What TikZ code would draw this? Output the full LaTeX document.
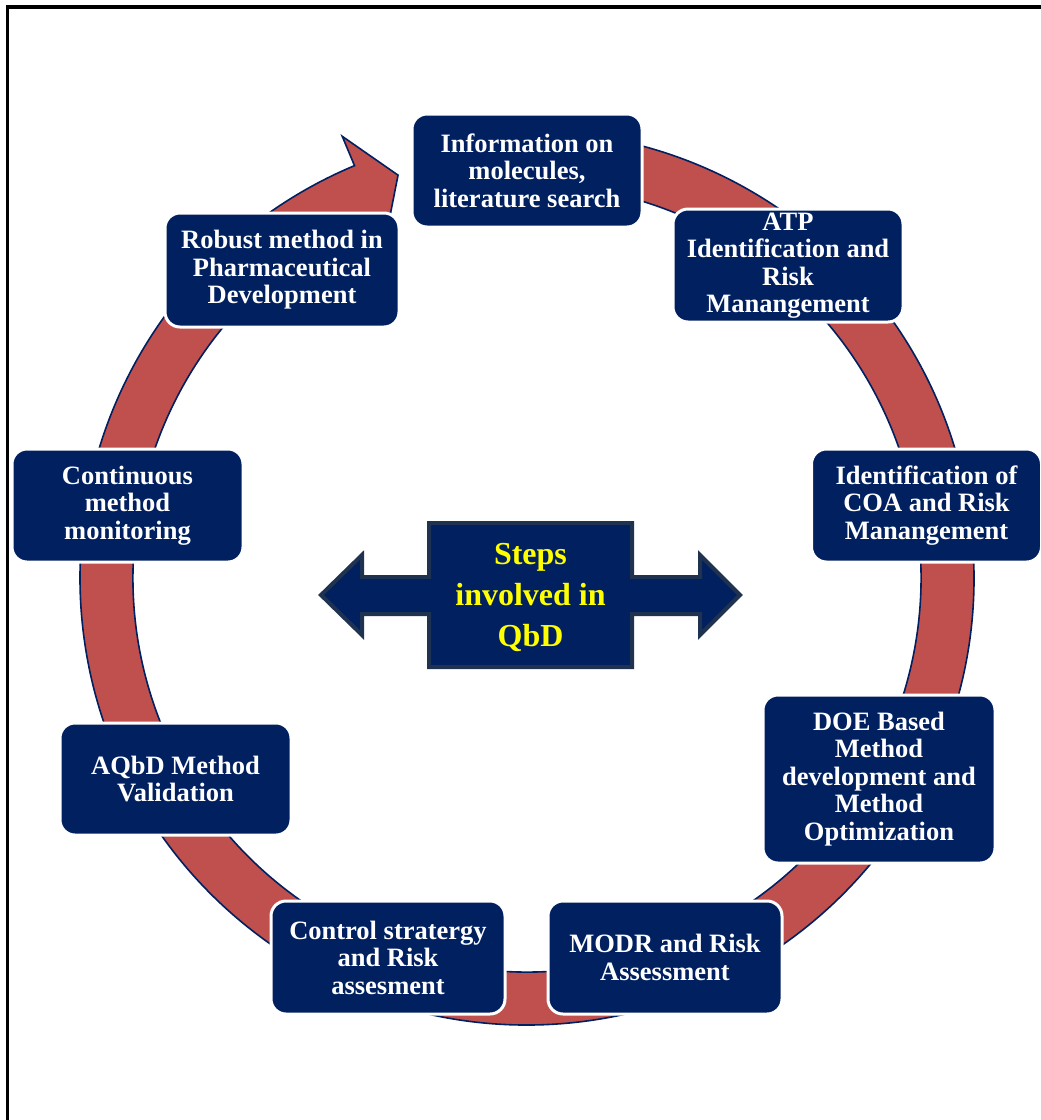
\documentclass[tikz,border=0pt]{standalone}
\usepackage{fontspec}
\setmainfont{Liberation Serif}
\definecolor{navy}{HTML}{002060}
\definecolor{ringred}{HTML}{C0504D}
\definecolor{slateedge}{HTML}{1F3350}
\definecolor{qbdyellow}{HTML}{FFFF00}
\tikzset{
  stepbox/.style={rounded corners=15pt, fill=navy, draw=white, line width=3pt,
    text=white, align=center, inner sep=0pt, font=\bfseries\fontsize{26.5}{27.5}\selectfont},
  ringarrow/.style={fill=ringred, draw=navy, line width=1.6pt, line join=miter},
  hubarrow/.style={fill=navy, draw=slateedge, line width=4pt, line join=miter},
}
\begin{document}
\begin{tikzpicture}[x=1pt, y=-1pt]
\useasboundingbox (0,0) rectangle (1041,1120);
\fill[white] (0,0) rectangle (1041,1120);
% outer frame (top and left rules)
\draw[line width=3.5pt] (7.5,1125) -- (7.5,7) -- (1045,7);

% circular process arrow, clockwise, head ending near the top
\begin{scope}[shift={(527,578)}]
  \draw[ringarrow]
    (-95:447) arc[start angle=-95, end angle=247.3, radius=447]
    -- (247.3:478.8) -- (252.25:423) -- (247.3:367) -- (247.3:394)
    arc[start angle=247.3, end angle=-95, radius=394] -- cycle;
\end{scope}

% step boxes
\node[stepbox, minimum width=230pt, minimum height=113pt] (info) at (527,170.5)
  {Information on\\molecules,\\literature search};
\node[stepbox, minimum width=230pt, minimum height=113pt] (atp) at (788,265.5)
  {ATP\\Identification and\\Risk\\Manangement};
\node[stepbox, minimum width=230pt, minimum height=113pt] (coa) at (926.5,505.5)
  {Identification of\\COA and Risk\\Manangement};
\node[stepbox, minimum width=232pt, minimum height=168pt] (doe) at (879,779)
  {DOE Based\\Method\\development and\\Method\\Optimization};
\node[stepbox, minimum width=234pt, minimum height=113pt] (modr) at (665,957.5)
  {MODR and Risk\\Assessment};
\node[stepbox, minimum width=234pt, minimum height=113pt] (ctrl) at (388,957.5)
  {Control stratergy\\and Risk\\assesment};
\node[stepbox, minimum width=231pt, minimum height=112pt] (aqbd) at (175.5,779)
  {AQbD Method\\Validation};
\node[stepbox, minimum width=231pt, minimum height=113pt] (cmon) at (127.5,505.5)
  {Continuous\\method\\monitoring};
\node[stepbox, minimum width=234pt, minimum height=114pt] (robust) at (282,270)
  {Robust method in\\Pharmaceutical\\Development};

% central double-headed callout
\draw[hubarrow]
  (321,595) -- (362,555) -- (362,577) -- (429,577) -- (429,523) -- (632,523)
  -- (632,577) -- (700,577) -- (700,555) -- (740,595) -- (700,635) -- (700,614)
  -- (632,614) -- (632,667) -- (429,667) -- (429,614) -- (362,614) -- (362,635)
  -- cycle;
\node[text=qbdyellow, align=center, inner sep=0pt,
  font=\bfseries\fontsize{32}{41}\selectfont] (steps) at (530.5,597)
  {Steps\\involved in\\QbD};
\end{tikzpicture}
\end{document}
